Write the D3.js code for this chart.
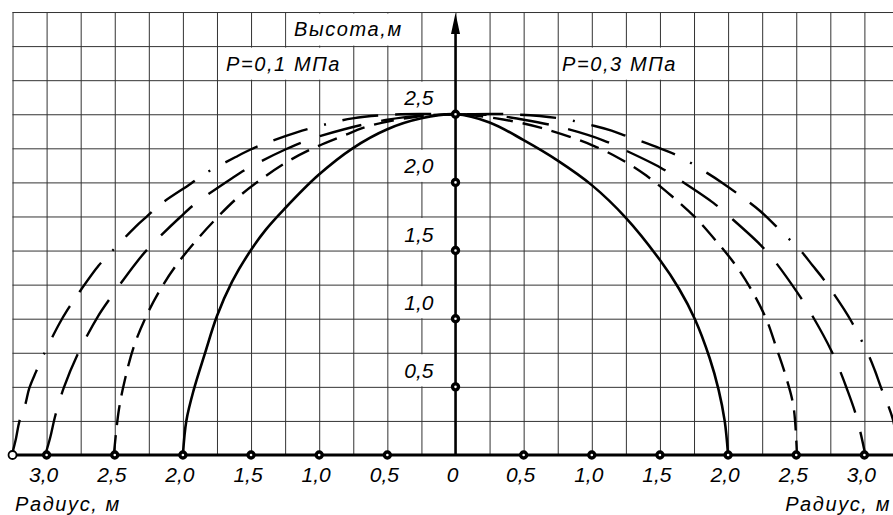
<!DOCTYPE html>
<html>
<head>
<meta charset="utf-8">
<script src="https://cdn.jsdelivr.net/npm/d3@7"></script>
<style>
  body { margin: 0; background: #fff; }
  svg { display: block; }
  text { font-family: "Liberation Sans", Arial, sans-serif; font-style: italic; fill: #000; }
</style>
</head>
<body>
<script>
// Профили купола (радиус, м ; высота, м), слева направо
const solidCurve = [[-2.0,0],[-1.975,0.25],[-1.92,0.48],[-1.84,0.74],[-1.75,1.02],[-1.64,1.27],[-1.52,1.475],[-1.39,1.655],[-1.26,1.80],[-1.01,2.05],[-0.755,2.25],[-0.5,2.39],[-0.25,2.47],[0,2.5],[0.25,2.44],[0.5,2.31],[0.75,2.16],[1.0,1.98],[1.25,1.74],[1.5,1.43],[1.64,1.22],[1.755,1.0],[1.865,0.71],[1.93,0.48],[1.975,0.25],[2.0,0]]

const shortDashCurve = [[-2.507,0],[-2.47,0.33],[-2.426,0.55],[-2.36,0.796],[-2.275,1.005],[-2.18,1.19],[-2.054,1.385],[-1.907,1.568],[-1.76,1.73],[-1.60,1.887],[-1.43,2.02],[-1.245,2.145],[-1.061,2.243],[-0.829,2.34],[-0.632,2.414],[-0.3,2.48],[0,2.5],[0.3,2.47],[0.63,2.40],[1.0,2.274],[1.206,2.174],[1.40,2.05],[1.586,1.90],[1.757,1.745],[1.914,1.568],[2.061,1.385],[2.184,1.189],[2.282,0.993],[2.355,0.784],[2.424,0.576],[2.48,0.355],[2.505,0]]

const longDashCurve = [[-3.01,0],[-2.973,0.13],[-2.936,0.29],[-2.875,0.49],[-2.77,0.743],[-2.623,1.017],[-2.532,1.152],[-2.348,1.404],[-2.25,1.52],[-2.017,1.748],[-1.907,1.845],[-1.645,2.027],[-1.515,2.108],[-1.245,2.243],[-1.085,2.309],[-0.816,2.39],[-0.5,2.46],[-0.25,2.49],[0,2.5],[0.3,2.49],[0.5,2.46],[0.79,2.40],[1.083,2.309],[1.23,2.243],[1.505,2.108],[1.642,2.02],[1.892,1.85],[2.015,1.745],[2.235,1.544],[2.336,1.43],[2.527,1.164],[2.613,1.03],[2.76,0.76],[2.82,0.62],[2.87,0.49],[2.93,0.32],[2.97,0.17],[3.007,0]]

const dashDotCurve = [[-3.255,0],[-3.225,0.12],[-3.2,0.245],[-3.157,0.368],[-3.127,0.49],[-3.078,0.61],[-3.022,0.735],[-2.907,0.963],[-2.846,1.066],[-2.77,1.18],[-2.618,1.39],[-2.532,1.483],[-2.348,1.674],[-2.262,1.752],[-2.164,1.84],[-1.943,1.99],[-1.846,2.06],[-1.613,2.186],[-1.50,2.243],[-1.387,2.29],[-1.17,2.365],[-1.024,2.407],[-0.755,2.47],[-0.4,2.5],[0,2.5],[0.4,2.5],[0.765,2.47],[1.022,2.414],[1.145,2.38],[1.255,2.34],[1.5,2.25],[1.635,2.194],[1.848,2.068],[1.953,2.0],[2.06,1.924],[2.235,1.79],[2.355,1.675],[2.54,1.49],[2.62,1.39],[2.70,1.29],[2.85,1.07],[2.91,0.97],[3.03,0.735],[3.077,0.62],[3.12,0.50],[3.21,0.257],[3.25,0]]

// Подписи осей
const xTickValues = [-3, -2.5, -2, -1.5, -1, -0.5, 0, 0.5, 1, 1.5, 2, 2.5, 3]
const xTickLabels = ["3,0", "2,5", "2,0", "1,5", "1,0", "0,5", "0", "0,5", "1,0", "1,5", "2,0", "2,5", "3,0"]
const yTickValues = [0.5, 1, 1.5, 2, 2.5]
const yTickLabels = ["0,5", "1,0", "1,5", "2,0", "2,5"]

// шаг сетки 0,25 м
const gridX = d3.range(-3.25, 3.26, 0.25)
const gridY = d3.range(0.25, 3.26, 0.25)

/* SVG ---------------------------------------------------------------- */
const W = 893, H = 515
const cx = 455.5, unit = 136.3, base = 455

const svg = d3.select("body")
    .append("svg")
    .attr("width", W)
    .attr("height", H)

const x = d3.scaleLinear()
    .domain([-3.25, 3.25])
    .range([cx - 3.25 * unit, cx + 3.25 * unit])

const y = d3.scaleLinear()
    .domain([0, 3.25])
    .range([base, base - 3.25 * unit])

/* СЕТКА -------------------------------------------------------------- */
svg.append("g")
    .attr("transform", "translate(0," + y(0) + ")")
    .call(d3.axisBottom(x).tickValues(gridX).tickSize(-(y(0) - y(3.25))).tickFormat(""))
    .call(g => g.select(".domain").remove())
    .selectAll("line")
    .attr("stroke", "#333")

svg.append("g")
    .attr("transform", "translate(" + x(-3.25) + ",0)")
    .call(d3.axisLeft(y).tickValues(gridY).tickSize(-(x(3.25) - x(-3.25))).tickFormat(""))
    .call(g => g.select(".domain").remove())
    .selectAll("line")
    .attr("stroke", "#333")

// белые клетки под надписями
const cell = (r0, r1, h0, h1) => svg.append("rect")
    .attr("x", x(r0) + 1.5).attr("y", y(h1) + 1.5)
    .attr("width", x(r1) - x(r0) - 2).attr("height", y(h0) - y(h1) - 2)
    .attr("fill", "#fff")
cell(-1.25, -0.25, 3.0, 3.25)
cell(-1.75, -0.75, 2.75, 3.0)
cell(0.75, 1.75, 2.75, 3.0)
yTickValues.forEach(v => cell(-0.5, 0, v, v + 0.25))

/* КРИВЫЕ ------------------------------------------------------------- */
const line = d3.line()
    .x(d => x(d[0]))
    .y(d => y(d[1]))
    .curve(d3.curveCatmullRom.alpha(0.5))

const series = [
    { pts: solidCurve, dash: null, w: 2.6 },
    { pts: shortDashCurve, dash: "20,10", w: 2.4 },
    { pts: longDashCurve, dash: "43,20", w: 2.4 },
    { pts: dashDotCurve, dash: "36,17,36,17,2,17", w: 2.4 }
]

svg.append("g")
    .selectAll("path")
    .data(series)
    .join("path")
    .attr("d", d => line(d.pts))
    .attr("fill", "none")
    .attr("stroke", "#000")
    .attr("stroke-width", d => d.w)
    .attr("stroke-dasharray", d => d.dash)

/* ОСИ ---------------------------------------------------------------- */
svg.append("line")
    .attr("x1", x(-3.25)).attr("x2", W)
    .attr("y1", y(0)).attr("y2", y(0))
    .attr("stroke", "#000").attr("stroke-width", 3)

svg.append("line")
    .attr("x1", cx).attr("x2", cx)
    .attr("y1", y(0)).attr("y2", 24)
    .attr("stroke", "#000").attr("stroke-width", 2.5)

// стрелка
svg.append("path")
    .attr("d", `M${cx},13 L${cx - 4.5},34 L${cx + 4.5},34 Z`)
    .attr("fill", "#000")

// точки на осях
svg.append("g")
    .selectAll("circle")
    .data(xTickValues.filter(v => v !== 0))
    .join("circle")
    .attr("cx", d => x(d)).attr("cy", y(0)).attr("r", 3)
    .attr("fill", "#fff").attr("stroke", "#000").attr("stroke-width", 3.4)

svg.append("g")
    .selectAll("circle")
    .data(yTickValues)
    .join("circle")
    .attr("cx", cx).attr("cy", d => y(d)).attr("r", 3)
    .attr("fill", "#fff").attr("stroke", "#000").attr("stroke-width", 3.4)

svg.append("circle")
    .attr("cx", x(-3.25)).attr("cy", y(0)).attr("r", 4)
    .attr("fill", "#fff").attr("stroke", "#000").attr("stroke-width", 1.8)

/* ПОДПИСИ ------------------------------------------------------------ */
svg.append("g")
    .selectAll("text")
    .data(xTickValues)
    .join("text")
    .attr("x", d => x(d) - 3)
    .attr("y", 482)
    .attr("text-anchor", "middle")
    .attr("font-size", 21)
    .text((d, i) => xTickLabels[i])

svg.append("g")
    .selectAll("text")
    .data(yTickValues)
    .join("text")
    .attr("x", cx - 22)
    .attr("y", d => y(d) - 9)
    .attr("text-anchor", "end")
    .attr("font-size", 21)
    .text((d, i) => yTickLabels[i])

const label = (txt, px, py, anchor) => svg.append("text")
    .attr("x", px).attr("y", py)
    .attr("text-anchor", anchor || "start")
    .attr("font-size", 20)
    .attr("letter-spacing", 1.6)
    .text(txt)

label("Высота,м", 294, 36)
label("P=0,1 МПа", 226, 71)
label("P=0,3 МПа", 562, 71)
label("Радиус, м", 15, 511)
label("Радиус, м", 891, 511, "end")
</script>
</body>
</html>
